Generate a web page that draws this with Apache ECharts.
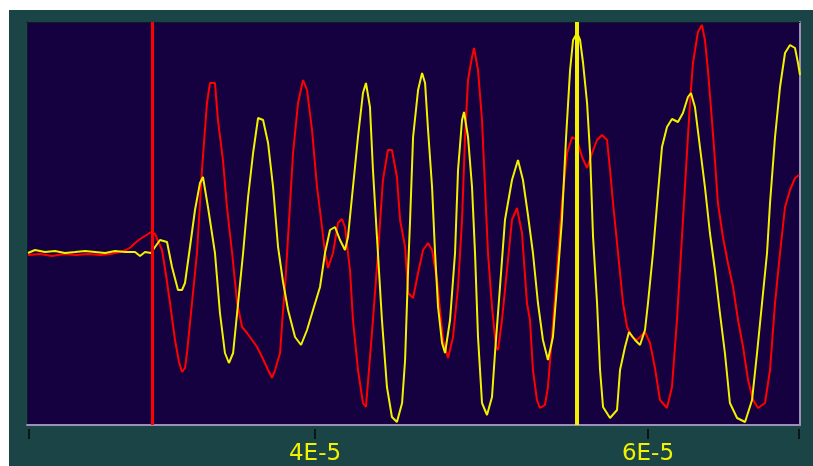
<!DOCTYPE html>
<html>
<head>
<meta charset="utf-8">
<script src="https://cdn.jsdelivr.net/npm/echarts@6/dist/echarts.min.js"></script>
<style>
html,body{margin:0;padding:0;background:#ffffff;}
#chart{position:absolute;left:9px;top:10px;width:804px;height:456px;}
</style>
</head>
<body>
<div id="chart"></div>
<script>
// time in microseconds (axis labelled in seconds as xE-5), amplitude in arbitrary units
const redTime = [22.76,23.48,24.20,24.92,25.65,26.37,27.09,27.69,28.29,28.65,28.95,29.19,29.49,29.79,30.15,30.39,30.81,31.05,31.29,31.59,31.83,32.01,32.19,32.31,32.61,32.91,33.21,33.51,33.69,33.99,34.17,34.47,34.71,35.02,35.32,35.62,35.92,36.22,36.52,36.82,37.18,37.42,37.60,37.90,38.08,38.20,38.38,38.68,38.98,39.28,39.52,39.82,40.12,40.42,40.60,40.78,41.08,41.38,41.62,41.80,42.10,42.28,42.58,42.88,43.06,43.24,43.48,43.78,44.08,44.38,44.62,44.92,45.11,45.41,45.59,45.89,46.19,46.49,46.79,47.03,47.33,47.51,47.69,47.99,48.29,48.59,48.83,49.01,49.19,49.43,49.55,49.79,50.03,50.21,50.39,50.63,50.87,50.99,51.23,51.53,51.83,52.13,52.43,52.73,52.91,53.09,53.33,53.51,53.81,53.99,54.23,54.53,54.83,55.14,55.44,55.74,56.04,56.34,56.64,56.94,57.24,57.54,57.72,57.90,58.20,58.50,58.74,59.04,59.34,59.64,59.82,60.12,60.42,60.72,61.14,61.44,61.74,62.04,62.34,62.52,62.70,63.00,63.24,63.42,63.60,63.84,64.02,64.20,64.50,64.80,65.11,65.41,65.71,66.01,66.31,66.61,67.03,67.33,67.63,67.93,68.23,68.53,68.83,69.07];
const redAmp = [-0.02,-0.01,-0.03,-0.01,-0.02,-0.01,-0.02,-0.01,0.01,0.03,0.06,0.10,0.14,0.17,0.21,0.19,0.03,-0.22,-0.50,-0.87,-1.09,-1.19,-1.15,-1.00,-0.50,0.00,0.83,1.50,1.70,1.70,1.33,0.93,0.46,0.00,-0.50,-0.74,-0.80,-0.87,-0.94,-1.04,-1.17,-1.25,-1.17,-1.00,-0.57,-0.34,0.16,1.00,1.50,1.73,1.63,1.23,0.66,0.26,0.00,-0.15,0.00,0.30,0.34,0.26,-0.17,-0.67,-1.17,-1.50,-1.54,-1.17,-0.67,0.00,0.73,1.03,1.03,0.76,0.33,0.06,-0.40,-0.45,-0.20,0.03,0.10,0.03,-0.27,-0.57,-0.87,-1.05,-0.84,-0.34,0.33,1.16,1.73,1.96,2.05,1.83,1.33,0.66,0.00,-0.54,-0.94,-0.97,-0.67,-0.17,0.33,0.45,0.20,-0.50,-0.67,-1.17,-1.47,-1.55,-1.52,-1.34,-0.84,-0.17,0.50,1.00,1.16,1.13,0.96,0.85,1.00,1.13,1.18,1.13,0.83,0.50,0.00,-0.50,-0.74,-0.84,-0.87,-0.82,-0.79,-0.90,-1.15,-1.47,-1.55,-1.34,-0.67,0.16,1.00,1.50,1.90,2.21,2.28,2.13,1.83,1.33,0.93,0.50,0.16,-0.10,-0.34,-0.67,-0.94,-1.27,-1.47,-1.55,-1.50,-1.17,-0.50,0.00,0.46,0.63,0.75,0.78];

const yellowTime = [22.76,23.18,23.78,24.38,24.98,25.59,26.19,26.79,27.39,27.99,28.59,29.19,29.49,29.79,30.15,30.39,30.69,31.11,31.41,31.77,32.01,32.19,32.49,32.79,33.09,33.27,33.57,33.99,34.29,34.59,34.83,35.08,35.38,35.68,35.98,36.28,36.58,36.88,37.18,37.48,37.78,38.08,38.38,38.80,39.16,39.52,39.88,40.30,40.60,40.90,41.20,41.50,41.80,41.98,42.28,42.58,42.88,43.06,43.30,43.48,43.72,44.02,44.32,44.62,44.92,45.23,45.41,45.59,45.71,45.89,46.19,46.43,46.61,46.79,47.03,47.21,47.39,47.63,47.81,48.11,48.41,48.59,48.83,48.95,49.19,49.43,49.61,49.79,50.03,50.33,50.63,50.81,51.11,51.41,51.83,52.19,52.49,52.79,53.09,53.39,53.69,53.99,54.29,54.53,54.83,55.08,55.32,55.50,55.74,55.92,56.10,56.34,56.52,56.70,56.94,57.12,57.30,57.72,58.14,58.32,58.62,58.86,59.22,59.52,59.82,60.00,60.30,60.60,60.84,61.14,61.44,61.80,62.10,62.40,62.58,62.82,63.12,63.42,63.72,64.02,64.32,64.62,64.92,65.35,65.83,66.25,66.55,66.85,67.15,67.33,67.63,67.93,68.23,68.53,68.83,69.01,69.13];
const yellowAmp = [0.00,0.03,0.01,0.02,0.00,0.01,0.02,0.01,0.00,0.02,0.01,0.01,-0.03,0.01,0.00,0.06,0.13,0.11,-0.14,-0.37,-0.37,-0.30,0.06,0.43,0.70,0.76,0.46,0.00,-0.60,-1.00,-1.10,-1.00,-0.50,0.00,0.56,1.00,1.35,1.33,1.10,0.66,0.06,-0.29,-0.57,-0.84,-0.92,-0.77,-0.57,-0.34,0.00,0.23,0.26,0.13,0.03,0.16,0.66,1.16,1.60,1.70,1.46,0.83,0.16,-0.67,-1.34,-1.64,-1.69,-1.50,-1.07,-0.17,0.33,1.16,1.63,1.80,1.70,1.23,0.66,0.00,-0.54,-0.90,-1.00,-0.67,0.00,0.83,1.33,1.41,1.16,0.66,0.00,-0.84,-1.50,-1.62,-1.44,-1.00,-0.34,0.33,0.73,0.93,0.73,0.38,0.00,-0.50,-0.87,-1.07,-0.84,-0.34,0.33,1.16,1.83,2.13,2.20,2.13,1.90,1.50,1.00,0.16,-0.50,-1.17,-1.54,-1.65,-1.57,-1.17,-0.94,-0.79,-0.87,-0.92,-0.77,-0.50,0.00,0.60,1.06,1.26,1.34,1.31,1.40,1.56,1.60,1.46,1.06,0.66,0.20,-0.17,-0.60,-1.00,-1.50,-1.65,-1.69,-1.47,-1.00,-0.50,0.00,0.50,1.16,1.66,2.00,2.08,2.05,1.90,1.78];

const redCursor = 30.2;
const yellowCursor = 55.75;

const timeMin = 22.70, timeMax = 69.13;
const ampMin = -1.72, ampMax = 2.31;
const tickValues = [22.82, 40, 60, 69.07];
const labelValues = [40, 60];

const chart = echarts.init(document.getElementById('chart'));
const pair = (xs, ys) => xs.map((x, i) => [x, ys[i]]);
const fmt = v => (Math.round(v / 10)) + 'E-5';

chart.setOption({
  animation: false,
  backgroundColor: '#1b4447',
  grid: {left: 18, top: 12, right: 13, bottom: 41, show: true, backgroundColor: '#150040', borderWidth: 0},
  xAxis: [
    {type: 'value', min: timeMin, max: timeMax, position: 'bottom',
     axisLine: {show: true, onZero: false, lineStyle: {color: '#9a90b8', width: 2}},
     axisTick: {show: false}, axisLabel: {show: false}, splitLine: {show: false}},
    {type: 'value', min: timeMin, max: timeMax, position: 'bottom', offset: 4,
     axisLine: {show: false, onZero: false},
     axisTick: {show: true, customValues: tickValues, length: 10, lineStyle: {color: '#0a1616', width: 2}},
     axisLabel: {show: true, customValues: labelValues, formatter: fmt, color: '#f2f200', fontSize: 23, fontFamily: 'DejaVu Sans', margin: 14},
     splitLine: {show: false}},
    {type: 'value', min: timeMin, max: timeMax, position: 'top',
     axisLine: {show: true, onZero: false, lineStyle: {color: '#0c1c26', width: 1}},
     axisTick: {show: false}, axisLabel: {show: false}, splitLine: {show: false}}
  ],
  yAxis: [
    {type: 'value', min: ampMin, max: ampMax, position: 'left',
     axisLine: {show: true, onZero: false, lineStyle: {color: '#0c1c26', width: 1}},
     axisTick: {show: false}, axisLabel: {show: false}, splitLine: {show: false}},
    {type: 'value', min: ampMin, max: ampMax, position: 'right',
     axisLine: {show: true, onZero: false, lineStyle: {color: '#9a90b8', width: 2}},
     axisTick: {show: false}, axisLabel: {show: false}, splitLine: {show: false}}
  ],
  series: [
    {type: 'line', name: 'red', xAxisIndex: 0, yAxisIndex: 0, data: pair(redTime, redAmp),
     showSymbol: false, lineStyle: {color: '#ff0000', width: 2}, itemStyle: {color: '#ff0000'},
     markLine: {silent: true, symbol: 'none', label: {show: false},
       lineStyle: {color: '#ff0000', width: 3, type: 'solid'}, data: [{xAxis: redCursor}]}},
    {type: 'line', name: 'yellow', xAxisIndex: 0, yAxisIndex: 0, data: pair(yellowTime, yellowAmp),
     showSymbol: false, lineStyle: {color: '#f2f200', width: 2}, itemStyle: {color: '#f2f200'},
     markLine: {silent: true, symbol: 'none', label: {show: false},
       lineStyle: {color: '#f2f200', width: 4, type: 'solid'}, data: [{xAxis: yellowCursor}]}}
  ]
});
</script>
</body>
</html>
